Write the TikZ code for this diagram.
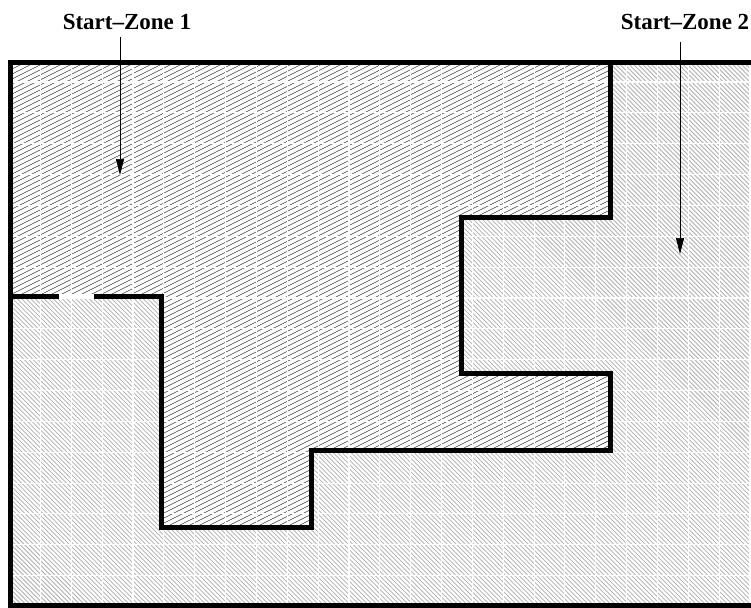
\documentclass[tikz,border=0pt]{standalone}
\usepackage{fontspec}
\setmainfont{Liberation Serif}
\usetikzlibrary{arrows.meta}
\begin{document}
\begin{tikzpicture}[x=1pt,y=-1pt,
  wall/.style={line width=5pt,line cap=rect,line join=miter},
  hatchA/.style={gray!50!black,line width=0.65pt},
  hatchB/.style={gray!55,line width=1.05pt},
  gridline/.style={white,line width=1.1pt},
  lbl/.style={font=\fontsize{23}{25}\selectfont\bfseries,inner sep=0pt},
  pointer/.style={line width=0.7pt,-{Triangle[length=16pt,width=8pt]}}]
\useasboundingbox (0,0) rectangle (751,607);
\def\zoneone{(10.5,63) -- (610,63) -- (610,217) -- (461,217) -- (461,373) -- (610,373) -- (610,450) -- (311,450) -- (311,527) -- (161,527) -- (161,296) -- (10.5,296) -- cycle}
% zone 2 hatching
\begin{scope}[even odd rule]
  \clip (10.5,63) rectangle (770,605) \zoneone;
  \foreach \x in {-700,-695.5,...,780} \draw[hatchB] (\x,0) -- (\x+700,700);
\end{scope}
% zone 1 hatching
\begin{scope}
  \clip \zoneone;
  \foreach \y in {60,65,...,960} \draw[hatchA] (0,\y) -- (800,\y-400);
\end{scope}
% white tile grid
\begin{scope}
  \clip (10.5,63) rectangle (770,605);
  \foreach \k in {0,...,25} \draw[gridline] (9.6+30.85*\k,60) -- (9.6+30.85*\k,610);
  \foreach \k in {0,...,18} \draw[gridline] (0,51.15+30.85*\k) -- (770,51.15+30.85*\k);
\end{scope}
% walls
\draw[wall] (10.5,63) rectangle (775,605);
\draw[wall] (610,63) -- (610,217) -- (461,217) -- (461,373) -- (610,373) -- (610,450) -- (311,450) -- (311,527) -- (161,527) -- (161,296) -- (95,296);
\draw[wall] (58,296) -- (10.5,296);
\draw[white,line width=5pt] (59,296) -- (94,296);
% labels and pointers
\node[lbl] (l1) at (127,22) {Start–Zone 1};
\node[lbl] (l2) at (685,22) {Start–Zone 2};
\coordinate (t1) at (120,175);
\coordinate (t2) at (680,254);
\draw[pointer] (t1 |- 0,37) -- (t1);
\draw[pointer] (t2 |- 0,42) -- (t2);
\end{tikzpicture}
\end{document}
